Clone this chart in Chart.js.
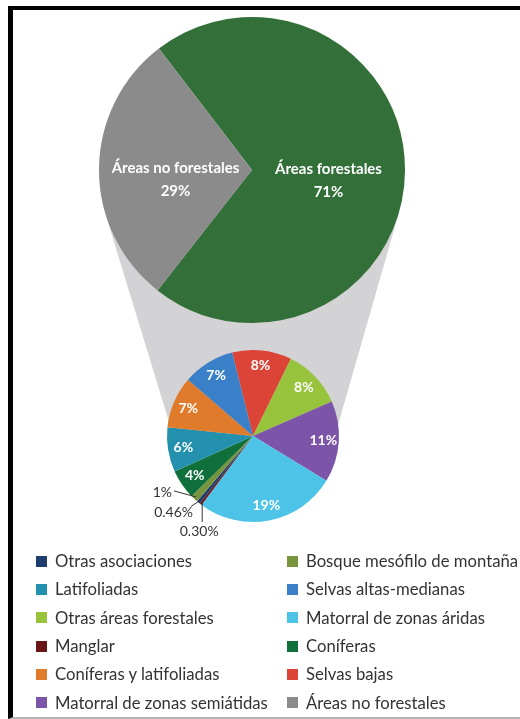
<!DOCTYPE html>
<html lang="es">
<head>
<meta charset="utf-8">
<title>Superficie forestal</title>
<script src="https://cdn.jsdelivr.net/npm/chart.js@4/dist/chart.umd.min.js"></script>
<style>
  html, body { margin: 0; padding: 0; background: #fff; }
  body { width: 520px; height: 719px; position: relative; overflow: hidden; font-family: Lato, "Open Sans", sans-serif; }
  #frame { position: absolute; left: 8px; top: 6px; width: 530px; height: 707px;
           border-top: 4px solid #000; border-left: 5px solid #000; border-bottom: 2px solid #b4b4b4; z-index: 0; }
  canvas { position: absolute; left: 0; top: 0; }
  #big { z-index: 1; }
  #small { z-index: 2; }
  #legend { position: absolute; left: 36px; top: 547px; z-index: 3;
            display: grid; grid-template-columns: 251px 240px; grid-auto-rows: 28.3px; }
  .item { display: flex; align-items: center; white-space: nowrap; font-size: 16.7px; color: #333; }
  .sw { width: 11px; height: 11px; margin-right: 8px; flex: none; }
</style>
</head>
<body>
<div id="frame"></div>
<canvas id="big" width="520" height="719"></canvas>
<canvas id="small" width="520" height="719"></canvas>
<div id="legend"></div>
<script>
// Superficie total: áreas forestales y no forestales
const totalLabels = ['Áreas forestales', 'Áreas no forestales'];
const totalValues = [71, 29];
const totalColors = ['#336f38', '#8b8b8b'];

// Desglose de las áreas forestales (porcentaje de la superficie total)
const forestLabels = [
  'Selvas bajas', 'Otras áreas forestales', 'Matorral de zonas semiátidas',
  'Matorral de zonas áridas', 'Manglar', 'Otras asociaciones',
  'Bosque mesófilo de montaña', 'Coníferas', 'Latifoliadas',
  'Coníferas y latifoliadas', 'Selvas altas-medianas'
];
const forestValues = [8, 8, 11, 19, 0.30, 0.46, 1, 4, 6, 7, 7];
const forestColors = [
  '#dc4437', '#98c43d', '#7d55a8', '#4cc3e7', '#6b1616', '#1f3c6e',
  '#78943c', '#10703b', '#2391ad', '#e07b2b', '#3a80c9'
];

// Orden de la leyenda (dos columnas, lectura por filas)
const legendOrder = [
  'Otras asociaciones', 'Bosque mesófilo de montaña',
  'Latifoliadas', 'Selvas altas-medianas',
  'Otras áreas forestales', 'Matorral de zonas áridas',
  'Manglar', 'Coníferas',
  'Coníferas y latifoliadas', 'Selvas bajas',
  'Matorral de zonas semiátidas', 'Áreas no forestales'
];

const FONT = 'Lato, "Open Sans", sans-serif';
const pct = v => (Number.isInteger(v) ? v : v.toFixed(2)) + '%';

// Posición de las etiquetas con línea guía para las rebanadas muy pequeñas
const leaderStyle = {
  'Manglar':                    { line: [0, 20],   text: [-3, 29],  align: 'center' },
  'Otras asociaciones':         { line: [-9, 6],   text: [-7, 12],  align: 'right' },
  'Bosque mesófilo de montaña': { line: [-22, -6], text: [-24, -4], align: 'right' }
};

const sliceLabels = {
  id: 'sliceLabels',
  afterDatasetsDraw(chart) {
    const ctx = chart.ctx;
    const meta = chart.getDatasetMeta(0);
    const values = chart.data.datasets[0].data;
    ctx.save();
    meta.data.forEach((arc, i) => {
      const v = values[i];
      const mid = (arc.startAngle + arc.endAngle) / 2;
      const name = chart.data.labels[i];
      const lead = leaderStyle[name];
      if (lead) {
        const ax = arc.x + Math.cos(mid) * arc.outerRadius * 0.97;
        const ay = arc.y + Math.sin(mid) * arc.outerRadius * 0.97;
        ctx.strokeStyle = '#333';
        ctx.lineWidth = 1;
        ctx.beginPath();
        ctx.moveTo(ax, ay);
        ctx.lineTo(ax + lead.line[0], ay + lead.line[1]);
        ctx.stroke();
        ctx.fillStyle = '#333';
        ctx.font = '14px ' + FONT;
        ctx.textAlign = lead.align;
        ctx.textBaseline = 'middle';
        ctx.fillText(pct(v), ax + lead.text[0], ay + lead.text[1]);
      } else {
        const r = arc.outerRadius * 0.82;
        ctx.fillStyle = '#fff';
        ctx.font = 'bold 14px ' + FONT;
        ctx.textAlign = 'center';
        ctx.textBaseline = 'middle';
        ctx.fillText(pct(v), arc.x + Math.cos(mid) * r, arc.y + Math.sin(mid) * r);
      }
    });
    ctx.restore();
  }
};

const smallChart = new Chart(document.getElementById('small'), {
  type: 'pie',
  data: {
    labels: forestLabels,
    datasets: [{ data: forestValues, backgroundColor: forestColors,
                 borderWidth: 0, hoverBorderWidth: 0, hoverOffset: 0 }]
  },
  options: {
    responsive: false, animation: false, devicePixelRatio: 1, events: [],
    rotation: -14,
    layout: { padding: { left: 167, top: 350, right: 181, bottom: 197 } },
    plugins: { legend: { display: false }, tooltip: { enabled: false } }
  },
  plugins: [sliceLabels]
});

// Banda gris que une el círculo total con el desglose forestal
const connector = {
  id: 'connector',
  beforeDatasetsDraw(chart) {
    const arc = chart.getDatasetMeta(0).data[0];
    const target = smallChart.getDatasetMeta(0).data[0];
    const R = arc.outerRadius;
    const edge = (deg, sign) => {
      const a = (deg - 90) * Math.PI / 180;
      const px = arc.x + Math.cos(a) * R, py = arc.y + Math.sin(a) * R;
      const dx = -Math.sin(a) * sign, dy = Math.cos(a) * sign;
      const t = (target.y - py) / dy;
      return [[px, py], [px + dx * t, py + dy * t]];
    };
    const L = edge(253, -1), Rt = edge(106, 1);
    const ctx = chart.ctx;
    ctx.save();
    ctx.fillStyle = '#d3d3d5';
    ctx.beginPath();
    ctx.moveTo(arc.x, arc.y);
    ctx.lineTo(L[0][0], L[0][1]);
    ctx.lineTo(L[1][0], L[1][1]);
    ctx.lineTo(Rt[1][0], Rt[1][1]);
    ctx.lineTo(Rt[0][0], Rt[0][1]);
    ctx.closePath();
    ctx.fill();
    ctx.restore();
  }
};

const totalLabelsPlugin = {
  id: 'totalLabels',
  afterDatasetsDraw(chart) {
    const ctx = chart.ctx;
    const meta = chart.getDatasetMeta(0);
    ctx.save();
    ctx.fillStyle = '#fff';
    ctx.font = 'bold 15px ' + FONT;
    ctx.textAlign = 'center';
    ctx.textBaseline = 'middle';
    meta.data.forEach((arc, i) => {
      const p = arc.getCenterPoint();
      ctx.fillText(chart.data.labels[i], p.x, p.y - 1);
      ctx.fillText(pct(chart.data.datasets[0].data[i]), p.x, p.y + 22);
    });
    ctx.restore();
  }
};

new Chart(document.getElementById('big'), {
  type: 'pie',
  data: {
    labels: totalLabels,
    datasets: [{ data: totalValues, backgroundColor: totalColors,
                 borderWidth: 0, hoverBorderWidth: 0, hoverOffset: 0 }]
  },
  options: {
    responsive: false, animation: false, devicePixelRatio: 1, events: [],
    rotation: -37.5,
    layout: { padding: { left: 99, top: 17, right: 115, bottom: 396 } },
    plugins: { legend: { display: false }, tooltip: { enabled: false } }
  },
  plugins: [connector, totalLabelsPlugin]
});

// Leyenda en dos columnas
const colorOf = {};
forestLabels.forEach((n, i) => colorOf[n] = forestColors[i]);
totalLabels.forEach((n, i) => colorOf[n] = totalColors[i]);
const legend = document.getElementById('legend');
legendOrder.forEach(name => {
  const item = document.createElement('div');
  item.className = 'item';
  const sw = document.createElement('span');
  sw.className = 'sw';
  sw.style.background = colorOf[name];
  item.appendChild(sw);
  item.appendChild(document.createTextNode(name));
  legend.appendChild(item);
});
</script>
</body>
</html>
